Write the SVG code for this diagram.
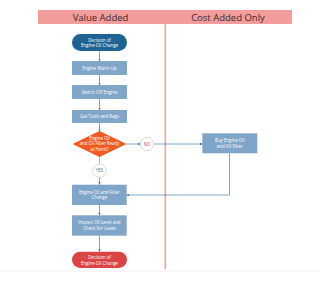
<svg xmlns="http://www.w3.org/2000/svg" width="320" height="284" viewBox="0 0 320 284">
<defs>
<marker id="ah" viewBox="0 0 6 6" refX="6" refY="3" markerWidth="3" markerHeight="3" orient="auto">
<path d="M0,0 L6,3 L0,6 Z" fill="#3b6f9f"/>
</marker>
<style>
.hdr{fill:#f29c9c}
.ht{font-family:"Open Sans","Liberation Sans",sans-serif;font-size:9.5px;fill:#3a2a2a;text-anchor:middle}
.box{fill:#7fa5c8}
.nt{font-family:"Open Sans","Liberation Sans",sans-serif;font-size:4.4px;fill:#ffffff;text-anchor:middle}
.ln{fill:none;stroke:#9dbad6;stroke-width:0.9}
.ar{fill:none;stroke:#5f8fb8;stroke-width:0.8;marker-end:url(#ah)}
.circ{fill:#ffffff;stroke:#c8c8c8;stroke-width:0.7}
.ct{font-family:"Open Sans","Liberation Sans",sans-serif;font-size:4.4px;text-anchor:middle}
</style>
</defs>
<rect width="320" height="284" fill="#ffffff"/>
<g id="lanes">
<rect class="hdr" x="38" y="10" width="254" height="14"/>
<text class="ht" x="100.5" y="20.5">Value Added</text>
<text class="ht" x="228" y="20.5">Cost Added Only</text>
<line x1="165.3" y1="10" x2="165.3" y2="269" stroke="#f29c9c" stroke-width="1.6"/>
<line x1="0" y1="271" x2="320" y2="271" stroke="#ececec" stroke-width="0.8"/>
</g>
<g id="connectors">
<line class="ar" x1="99.5" y1="51" x2="99.5" y2="61"/>
<line class="ar" x1="99.5" y1="75" x2="99.5" y2="85"/>
<line class="ar" x1="99.5" y1="99" x2="99.5" y2="110"/>
<line class="ar" x1="99.5" y1="123" x2="99.5" y2="131"/>
<line class="ln" x1="99.5" y1="157" x2="99.5" y2="164"/>
<line class="ar" x1="99.5" y1="177.5" x2="99.5" y2="184.7"/>
<line class="ar" x1="99.5" y1="205" x2="99.5" y2="215.3"/>
<line class="ar" x1="99.5" y1="235.7" x2="99.5" y2="251.7"/>
<line class="ar" x1="126" y1="144" x2="140.3" y2="144"/>
<line class="ar" x1="153.7" y1="144" x2="202.3" y2="144"/>
<polyline class="ar" points="229.5,153.3 229.5,195 126.7,195"/>
</g>
<g id="start">
<rect x="72" y="34" width="55" height="17" rx="8.5" fill="#1e6391"/>
<text class="nt" x="99.5" y="41.6">Decision of</text>
<text class="nt" x="99.5" y="47.2">Engine Oil Change</text>
</g>
<g id="warmup">
<rect class="box" x="72" y="61" width="55" height="14"/>
<text class="nt" x="99.5" y="69.5">Engine Warm-Up</text>
</g>
<g id="switchoff">
<rect class="box" x="72" y="85" width="55" height="14"/>
<text class="nt" x="99.5" y="93.5">Switch Off Engine</text>
</g>
<g id="tools">
<rect class="box" x="72" y="110" width="55" height="13"/>
<text class="nt" x="99.5" y="118">Get Tools and Rags</text>
</g>
<g id="decision">
<polygon points="99.5,131 126.5,144 99.5,157 72.5,144" fill="#f15a22"/>
<text class="nt" x="99.5" y="139.5">Engine Oil</text>
<text class="nt" x="99.5" y="145.3">and Oil Filter Ready</text>
<text class="nt" x="99.5" y="151.1">at Hand?</text>
</g>
<g id="no">
<circle class="circ" cx="147" cy="144" r="6.7"/>
<text class="ct" x="147" y="145.6" fill="#e0403a">NO</text>
</g>
<g id="yes">
<circle class="circ" cx="99.5" cy="170.8" r="6.7"/>
<text class="ct" x="99.5" y="172.4" fill="#3b6f9f">YES</text>
</g>
<g id="buy">
<rect class="box" x="202.3" y="133.3" width="55" height="20"/>
<text class="nt" x="229.8" y="142">Buy Engine Oil</text>
<text class="nt" x="229.8" y="147.8">and Oil Filter</text>
</g>
<g id="change">
<rect class="box" x="72" y="184.7" width="54.7" height="20.3"/>
<text class="nt" x="99.4" y="193.5">Engine Oil and Filter</text>
<text class="nt" x="99.4" y="199.3">Change</text>
</g>
<g id="inspect">
<rect class="box" x="72" y="215.3" width="54.7" height="20.4"/>
<text class="nt" x="99.4" y="224.1">Inspect Oil Level and</text>
<text class="nt" x="99.4" y="229.9">Check For Leaks</text>
</g>
<g id="end">
<rect x="72" y="251.7" width="55" height="16.3" rx="8.15" fill="#db4444"/>
<text class="nt" x="99.5" y="258.9">Decision of</text>
<text class="nt" x="99.5" y="264.5">Engine Oil Change</text>
</g>
</svg>
